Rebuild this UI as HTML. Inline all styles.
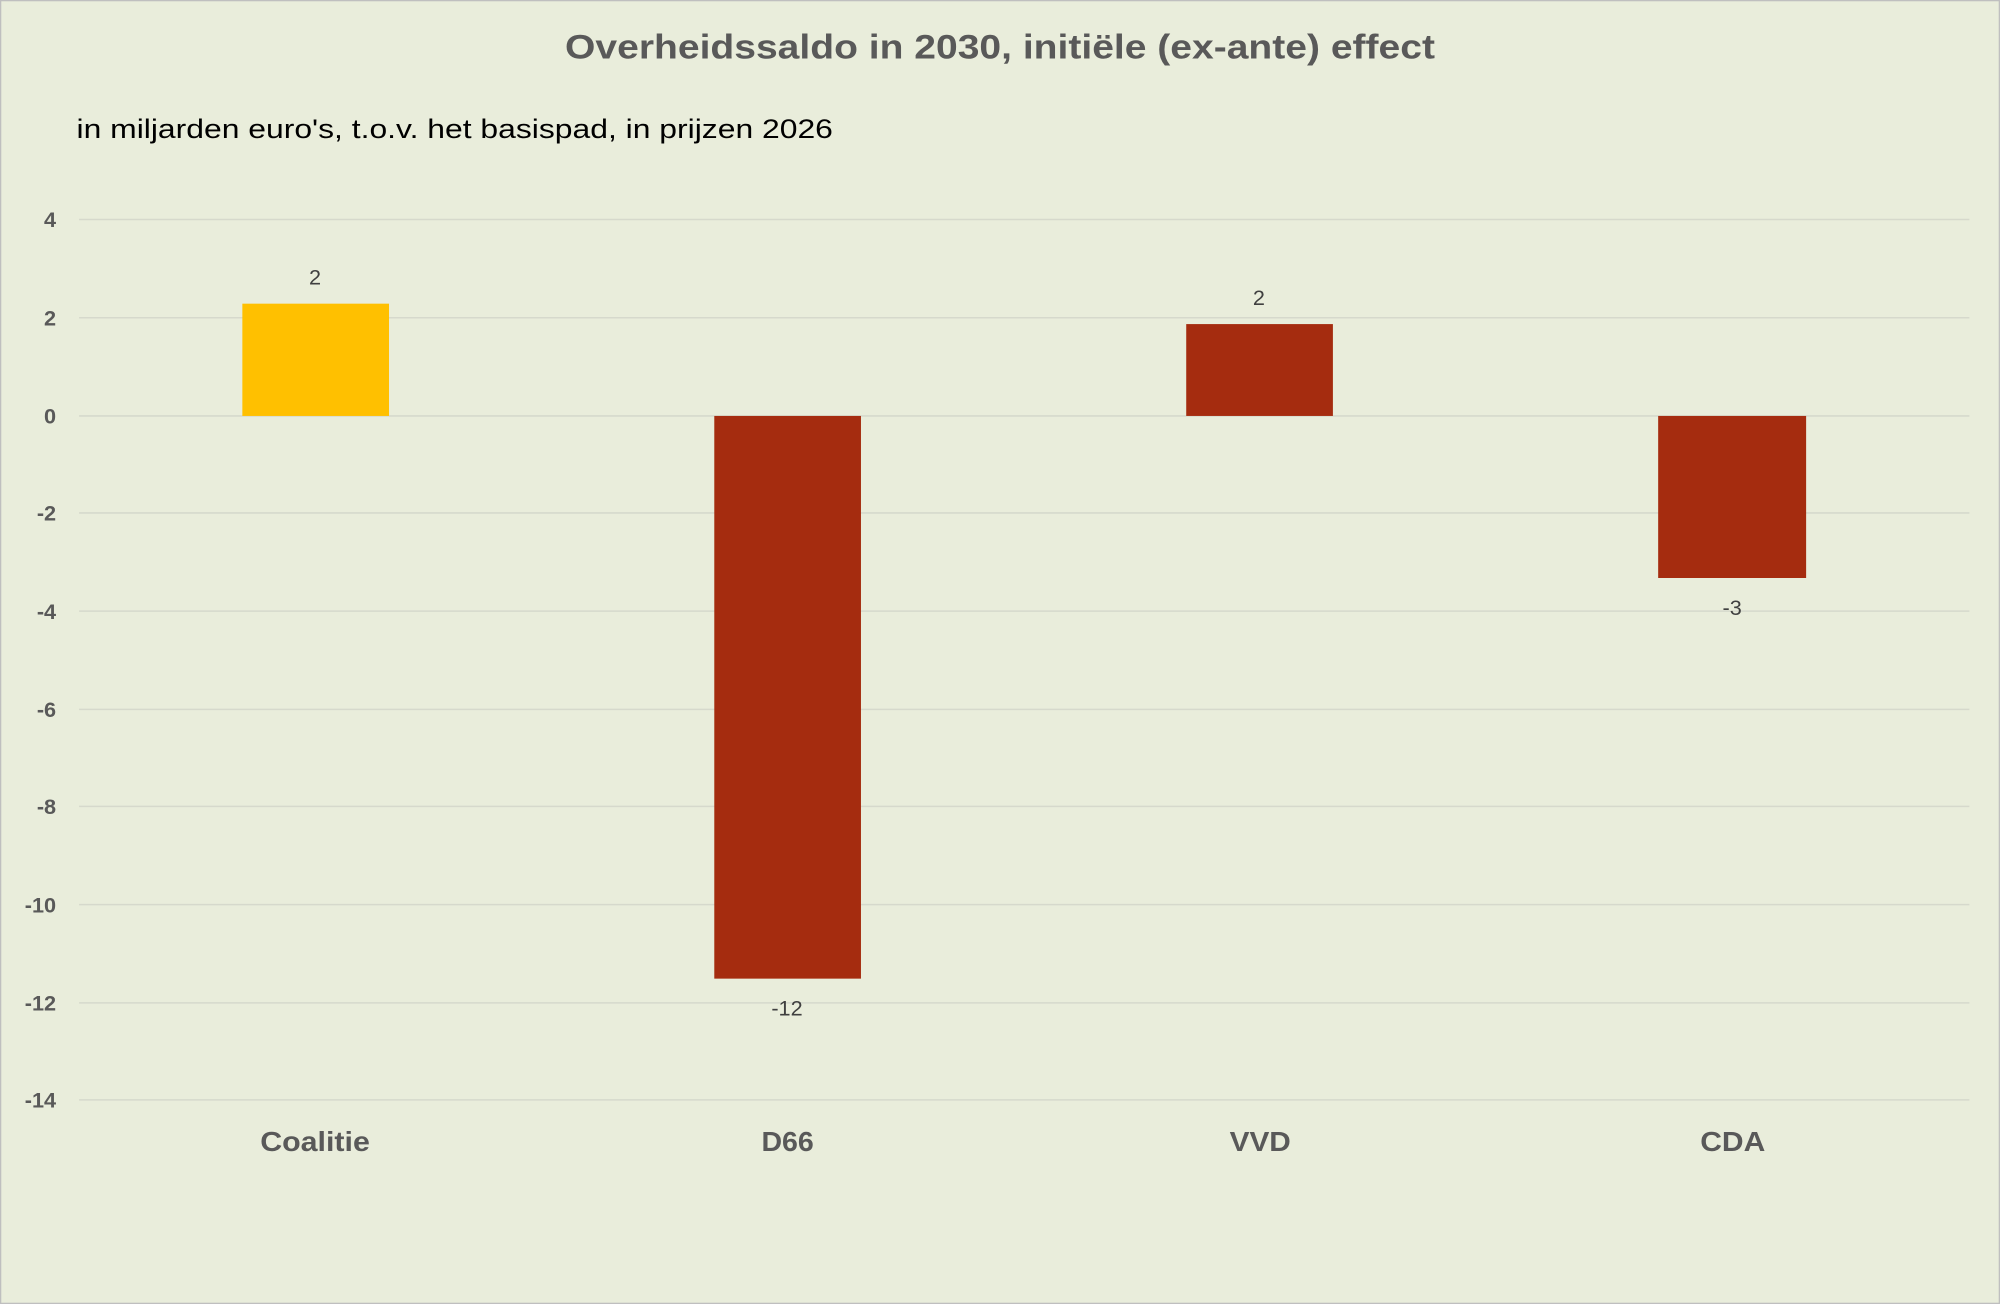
<!DOCTYPE html>
<html><head><meta charset="utf-8"><style>
html,body{margin:0;padding:0;width:2000px;height:1304px;overflow:hidden;background:#e9eddb}
svg{display:block}
text{font-family:"Liberation Sans",sans-serif}
</style></head><body>
<svg width="2000" height="1304" viewBox="0 0 1568 1022" preserveAspectRatio="none" xmlns="http://www.w3.org/2000/svg">
<rect x="0.5" y="0.5" width="1567" height="1021" fill="#e9eddb" stroke="#bfbfbf"/>
<text x="443" y="46" font-size="27" font-weight="bold" fill="#595959" textLength="682" lengthAdjust="spacingAndGlyphs">Overheidssaldo in 2030, initiële (ex-ante) effect</text>
<text x="60" y="108" font-size="21" fill="#000" textLength="593" lengthAdjust="spacingAndGlyphs">in miljarden euro's, t.o.v. het basispad, in prijzen 2026</text>
<g stroke="#d6d9cc" stroke-width="1.2">
<line x1="62" x2="1544" y1="172" y2="172"/><line x1="62" x2="1544" y1="249" y2="249"/>
<line x1="62" x2="1544" y1="326" y2="326"/><line x1="62" x2="1544" y1="402" y2="402"/>
<line x1="62" x2="1544" y1="479" y2="479"/><line x1="62" x2="1544" y1="556" y2="556"/>
<line x1="62" x2="1544" y1="632" y2="632"/><line x1="62" x2="1544" y1="709" y2="709"/>
<line x1="62" x2="1544" y1="786" y2="786"/><line x1="62" x2="1544" y1="862" y2="862"/>
</g>
<g font-size="17" font-weight="bold" fill="#595959" text-anchor="end">
<text x="44" y="178">4</text><text x="44" y="255">2</text><text x="44" y="332">0</text>
<text x="44" y="408">-2</text><text x="44" y="485">-4</text><text x="44" y="562">-6</text>
<text x="44" y="638">-8</text><text x="44" y="715">-10</text><text x="44" y="792">-12</text>
<text x="44" y="868">-14</text>
</g>
<rect x="190" y="238" width="115" height="88" fill="#ffc000"/>
<rect x="560" y="326" width="115" height="441" fill="#a52c0f"/>
<rect x="930" y="254" width="115" height="72" fill="#a52c0f"/>
<rect x="1300" y="326" width="116" height="127" fill="#a52c0f"/>
<g font-size="17" fill="#404040" text-anchor="middle">
<text x="247" y="223">2</text><text x="617" y="796">-12</text>
<text x="987" y="239">2</text><text x="1358" y="482">-3</text>
</g>
<g font-size="22" font-weight="bold" fill="#595959">
<text x="204" y="902" textLength="86" lengthAdjust="spacingAndGlyphs">Coalitie</text>
<text x="597" y="902" textLength="41" lengthAdjust="spacingAndGlyphs">D66</text>
<text x="964" y="902" textLength="48" lengthAdjust="spacingAndGlyphs">VVD</text>
<text x="1333" y="902" textLength="51" lengthAdjust="spacingAndGlyphs">CDA</text>
</g>
</svg>
</body></html>
